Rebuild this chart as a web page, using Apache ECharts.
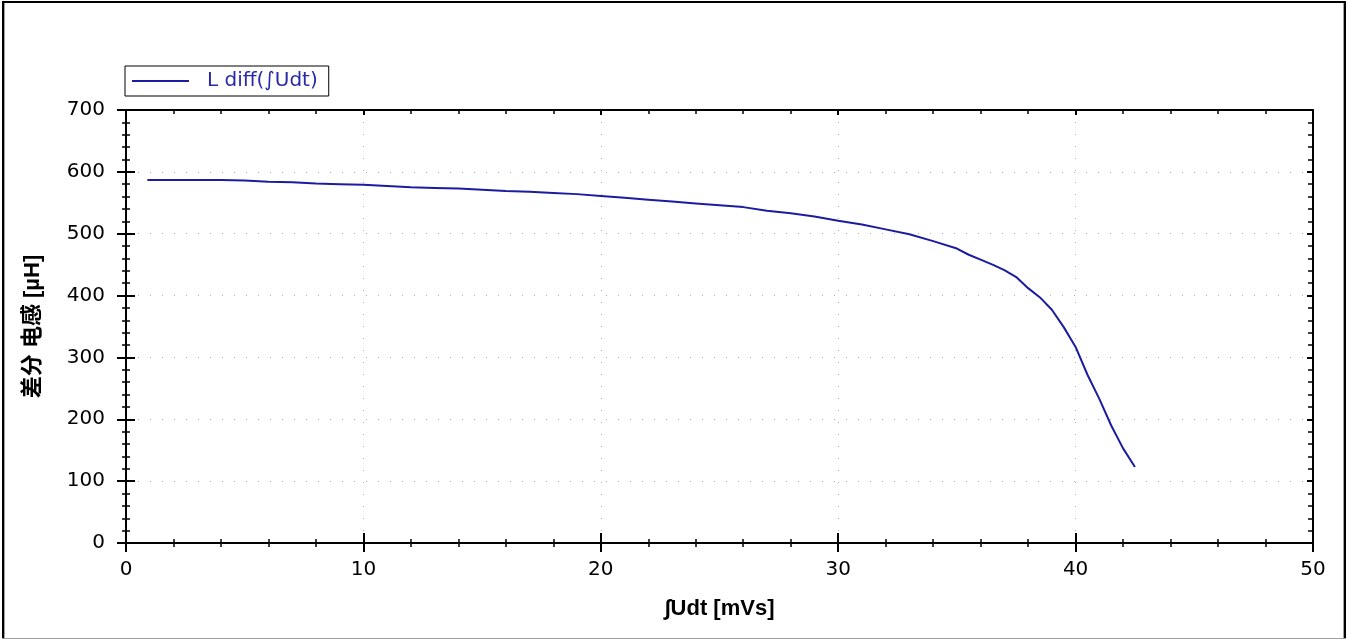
<!DOCTYPE html>
<html>
<head>
<meta charset="utf-8">
<script src="https://cdn.jsdelivr.net/npm/echarts@6/dist/echarts.min.js"></script>
<style>
html,body{margin:0;padding:0;background:#fff;}
#chart{position:absolute;left:0;top:0;width:1348px;height:640px;}
.b{position:absolute;}
</style>
</head>
<body>
<div id="chart"></div>
<div class="b" style="left:2px;top:1px;width:1344px;height:2px;background:#000"></div>
<div class="b" style="left:2px;top:1px;width:2px;height:638px;background:#000"></div>
<div class="b" style="left:4px;top:3px;width:1px;height:636px;background:#a0a0a0"></div>
<div class="b" style="left:1344px;top:1px;width:2px;height:638px;background:#000"></div>
<div class="b" style="left:1343px;top:3px;width:1px;height:636px;background:#a0a0a0"></div>
<div class="b" style="left:2px;top:638px;width:1344px;height:1px;background:#a0a0a0"></div>
<script>
var seriesName = 'L diff(\u222BUdt)';
var xName = '\u222BUdt [mVs]';
var yName = '差分 电感 [µH]';
var xValues = [0.9, 2, 3, 4, 5, 6, 7, 8, 9, 10, 11, 12, 13, 14, 15, 16, 17, 18, 19, 20,
  21, 22, 23, 24, 25, 26, 27, 28, 29, 30, 31, 32, 33, 34, 35, 35.5, 36, 36.5, 37, 37.5,
  38, 38.5, 39, 39.5, 40, 40.5, 41, 41.5, 42, 42.5];
var yValues = [587, 587, 587, 587, 586, 584, 583, 581, 580, 579, 577, 575, 574, 573, 571, 569, 568, 566, 564, 561,
  558, 555, 552, 549, 546, 543, 537, 533, 528, 521, 515, 507, 499, 488, 476, 466, 458, 450, 441, 430,
  412, 397, 377, 349, 317, 272, 233, 190, 153, 123];

var data = xValues.map(function (x, i) { return [x, yValues[i]]; });
var chart = echarts.init(document.getElementById('chart'));
var font = 'Liberation Sans, Arial, sans-serif';
var tickFont = 'DejaVu Sans, sans-serif';
var grid = { left: 126, right: 35, top: 110, bottom: 97, containLabel: false };
function xAx(opt) {
  return Object.assign({
    type: 'value', min: 0, max: 50, interval: 10, position: 'bottom',
    axisLine: { show: true, onZero: false, lineStyle: { color: '#000', width: 2 } },
    axisTick: { show: true, inside: false, length: 9, lineStyle: { color: '#000', width: 2 } },
    minorTick: { show: true, splitNumber: 5, length: 4, lineStyle: { color: '#000', width: 1.5 } },
    axisLabel: { show: false },
    splitLine: { show: false }
  }, opt);
}
function yAx(opt) {
  return Object.assign({
    type: 'value', min: 0, max: 700, interval: 100, position: 'left',
    axisLine: { show: true, onZero: false, lineStyle: { color: '#000', width: 2 } },
    axisTick: { show: true, inside: false, length: 9, lineStyle: { color: '#000', width: 2 } },
    minorTick: { show: true, splitNumber: 5, length: 4, lineStyle: { color: '#000', width: 1.5 } },
    axisLabel: { show: false },
    splitLine: { show: false }
  }, opt);
}
chart.setOption({
  animation: false,
  backgroundColor: '#fff',
  grid: grid,
  legend: {
    show: true,
    left: 125, top: 66,
    orient: 'horizontal',
    backgroundColor: '#fff',
    borderColor: '#000', borderWidth: 1, borderRadius: 0,
    padding: [5, 11, 5, 7],
    itemWidth: 57, itemHeight: 14,
    textStyle: { fontFamily: tickFont, fontSize: 20, color: '#2a2aa8', padding: [0, 0, 0, 13] },
    data: [{ name: seriesName, icon: 'path://M0,0 L57,0 L57,2 L0,2 Z' }]
  },
  xAxis: [
    xAx({
      name: xName, nameLocation: 'middle', nameGap: 55,
      nameTextStyle: { fontFamily: font, fontSize: 22, fontWeight: 'bold', color: '#000' },
      axisLabel: { show: true, margin: 17, fontFamily: tickFont, fontSize: 20, color: '#000' },
      splitLine: { show: true, lineStyle: { color: '#b0b0b0', width: 1, type: [1, 11] } }
    }),
    xAx({ axisTick: { show: true, inside: true, length: 10, lineStyle: { color: '#000', width: 2 } },
          minorTick: { show: true, splitNumber: 5, length: 4, lineStyle: { color: '#000', width: 1.5 } } }),
    xAx({ position: 'top',
          axisTick: { show: true, inside: true, length: 5, lineStyle: { color: '#000', width: 2 } },
          minorTick: { show: true, splitNumber: 5, length: 4, lineStyle: { color: '#000', width: 1.5 } } })
  ],
  yAxis: [
    yAx({
      name: yName, nameLocation: 'middle', nameGap: 82, nameRotate: 90,
      nameTextStyle: { fontFamily: 'Liberation Sans, Noto Sans CJK SC, sans-serif', fontSize: 22, fontWeight: 'bold', color: '#000' },
      axisLabel: { show: true, margin: 21, fontFamily: tickFont, fontSize: 20, color: '#000' },
      splitLine: { show: true, lineStyle: { color: '#b0b0b0', width: 1, type: [1, 11] } }
    }),
    yAx({ axisTick: { show: true, inside: true, length: 9, lineStyle: { color: '#000', width: 2 } },
          minorTick: { show: true, splitNumber: 5, length: 4, lineStyle: { color: '#000', width: 1.5 } } }),
    yAx({ position: 'right',
          axisTick: { show: true, inside: true, length: 6, lineStyle: { color: '#000', width: 2 } },
          minorTick: { show: true, splitNumber: 5, length: 5, lineStyle: { color: '#000', width: 1.5 } } })
  ],
  series: [{
    name: seriesName,
    type: 'line',
    xAxisIndex: 0, yAxisIndex: 0,
    data: data,
    symbol: 'none',
    smooth: false,
    lineStyle: { color: '#1c1ca0', width: 2 },
    itemStyle: { color: '#1c1ca0' }
  }]
});
</script>
</body>
</html>
